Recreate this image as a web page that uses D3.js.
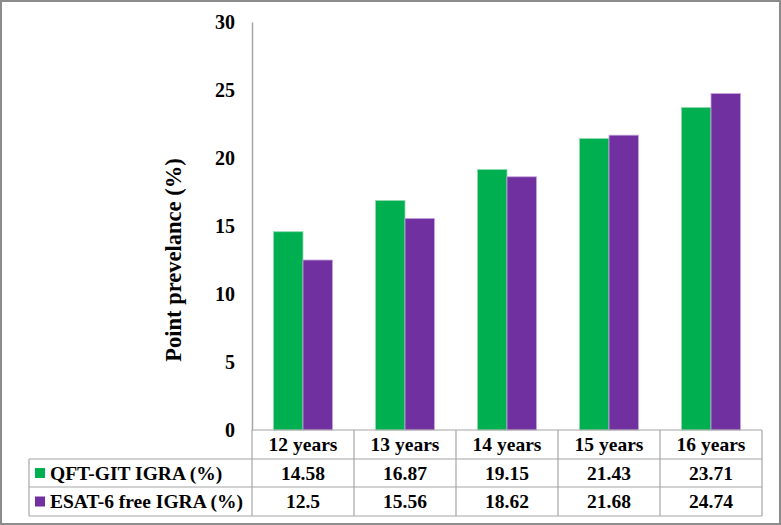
<!DOCTYPE html>
<html>
<head>
<script src="https://cdnjs.cloudflare.com/ajax/libs/d3/7.8.5/d3.min.js"></script>
<style>
  body { margin: 0; background: #fff; }
  text { font-family: "Liberation Serif", "Times New Roman", serif; font-weight: bold; fill: #000; }
</style>
</head>
<body>
<div id="chart"></div>
<script>
// data
var categories = ["12 years", "13 years", "14 years", "15 years", "16 years"];
var seriesNames = ["QFT-GIT IGRA (%)", "ESAT-6 free IGRA (%)"];
var qft = [14.58, 16.87, 19.15, 21.43, 23.71];
var esat = [12.5, 15.56, 18.62, 21.68, 24.74];
var yTicks = [0, 5, 10, 15, 20, 25, 30];
var colors = ["#00B050", "#7030A0"];

var W = 781, H = 525;
var mLeft = 252, mRight = 762, mTop = 22, mBottom = 430;

var svg = d3.select("#chart").append("svg")
  .attr("width", W).attr("height", H);

// outer frame
svg.append("rect")
  .attr("x", 1).attr("y", 1).attr("width", W - 2).attr("height", H - 2)
  .attr("fill", "#fff").attr("stroke", "#8c8c8c").attr("stroke-width", 2);

var x = d3.scaleBand().domain(categories).range([mLeft, mRight]);
var xs = d3.scaleBand().domain([0, 1]).range([0, x.bandwidth()]).paddingInner(0).paddingOuter(0.73);
var y = d3.scaleLinear().domain([0, 30]).range([mBottom, mTop]);

// y axis
var yAxis = d3.axisLeft(y).tickValues(yTicks).tickSize(0).tickPadding(17);
var gy = svg.append("g").attr("transform", "translate(" + mLeft + ",0)").call(yAxis);
gy.select(".domain").attr("stroke", "#a6a6a6").attr("stroke-width", 1.5);
gy.selectAll("text").style("font-size", "20px").style("font-family", "Liberation Serif").style("font-weight", "bold");

svg.append("text")
  .attr("transform", "translate(181,260) rotate(-90)")
  .attr("text-anchor", "middle")
  .style("font-size", "22.5px")
  .text("Point prevelance (%)");

// bars
var rows = categories.map(function(c, i) { return [qft[i], esat[i]]; });
var groups = svg.selectAll("g.cat").data(rows).enter().append("g")
  .attr("class", "cat")
  .attr("transform", function(d, i) { return "translate(" + x(categories[i]) + ",0)"; });
groups.selectAll("rect").data(function(d) { return d; }).enter().append("rect")
  .attr("x", function(d, j) { return xs(j); })
  .attr("width", xs.bandwidth())
  .attr("y", function(d) { return y(d); })
  .attr("height", function(d) { return mBottom - y(d); })
  .attr("fill", function(d, j) { return colors[j]; })
  .attr("stroke", function(d, j) { return j === 0 ? "#8fd9ae" : "#c6a6dc"; })
  .attr("stroke-width", 0.8);

// data table
var rowH = [mBottom, 459, 487, 516];
var legLeft = 29;
var lineColor = "#a6a6a6";
var tbl = svg.append("g").attr("stroke", lineColor).attr("stroke-width", 1.2);
tbl.append("line").attr("x1", mLeft).attr("x2", mRight).attr("y1", rowH[0]).attr("y2", rowH[0]);
for (var r = 1; r < rowH.length; r++) {
  tbl.append("line").attr("x1", legLeft).attr("x2", mRight).attr("y1", rowH[r]).attr("y2", rowH[r]);
}
tbl.append("line").attr("x1", legLeft).attr("x2", legLeft).attr("y1", rowH[1]).attr("y2", rowH[3]);
x.domain().forEach(function(c) {
  tbl.append("line").attr("x1", x(c)).attr("x2", x(c)).attr("y1", rowH[0]).attr("y2", rowH[3]);
});
tbl.append("line").attr("x1", mRight).attr("x2", mRight).attr("y1", rowH[0]).attr("y2", rowH[3]);

// header labels
svg.selectAll("text.cat").data(categories).enter().append("text")
  .attr("class", "cat")
  .attr("x", function(d) { return x(d) + x.bandwidth() / 2; })
  .attr("y", (rowH[0] + rowH[1]) / 2)
  .attr("dy", "0.35em")
  .attr("text-anchor", "middle")
  .style("font-size", "19.5px")
  .text(function(d) { return d; });

// value rows
[qft, esat].forEach(function(vals, j) {
  var cy = (rowH[j + 1] + rowH[j + 2]) / 2;
  svg.append("rect")
    .attr("x", 35).attr("y", cy - 5).attr("width", 10).attr("height", 10)
    .attr("fill", colors[j]);
  svg.append("text")
    .attr("x", 50).attr("y", cy).attr("dy", "0.35em")
    .style("font-size", "19.5px")
    .text(seriesNames[j]);
  svg.selectAll(null).data(vals).enter().append("text")
    .attr("x", function(d, i) { return x(categories[i]) + x.bandwidth() / 2; })
    .attr("y", cy).attr("dy", "0.35em")
    .attr("text-anchor", "middle")
    .style("font-size", "19.5px")
    .text(function(d) { return d; });
});
</script>
</body>
</html>
